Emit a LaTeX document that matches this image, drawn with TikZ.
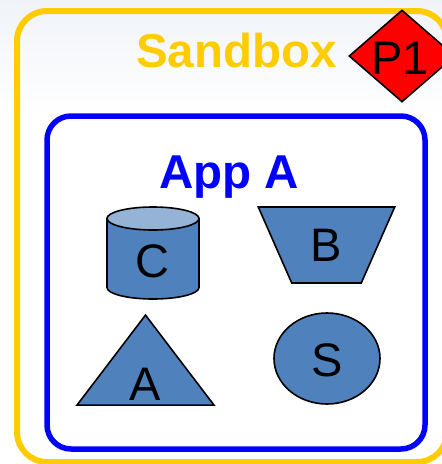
\documentclass[tikz,border=0pt]{standalone}
\usepackage{fontspec}
\setmainfont{Liberation Sans}
\usetikzlibrary{positioning,shapes.geometric}
\definecolor{sandboxcol}{HTML}{FFCC00}
\definecolor{shapecol}{HTML}{4F81BD}
\definecolor{lidcol}{HTML}{95B3D7}
\definecolor{topcol}{HTML}{F0F3F8}

\begin{document}
\begin{tikzpicture}[
    x=1pt,y=-1pt,
    bigtext/.style={font=\fontsize{47}{47}\selectfont,inner sep=0pt,anchor=base},
    titletext/.style={font=\fontsize{47.5}{47.5}\selectfont\bfseries,inner sep=0pt,anchor=base},
    myshape/.style={
    draw=black,
    fill=shapecol,
    line width=1.6pt,
    inner sep=0pt}
    ]
    \useasboundingbox (0,0) rectangle (442,464);
    \clip (0,0) rectangle (442,464);
    \shade[top color=topcol,bottom color=white] (0,0) rectangle (442,115);

    % outer boxes
    \node[draw=sandboxcol,line width=6pt,rounded corners=30pt,minimum width=430pt,minimum height=451pt,inner sep=0pt] (sandbox) at (232,236.5) {};
    \node[draw=blue,line width=5.5pt,rounded corners=24pt,minimum width=378pt,minimum height=333pt,inner sep=0pt] (appa) at (236,282.5) {};

    \node[titletext,text=sandboxcol] (sandboxlabel) at (236.5,67) {Sandbox};
    \node[titletext,text=blue] (appalabel) at (229,188) {App A};

    \node[myshape,diamond,fill=red,minimum width=106pt,minimum height=92pt] (p1) at (402,56) {};
    \node[bigtext] (p1label) at (400,74) {P1};

    % the four components
    \coordinate (cleft) at (107,218.5);
    \coordinate (cright) at (199,218.5);
    \draw[myshape] (cleft) -- ++(0,69) arc[start angle=180,end angle=360,x radius=46pt,y radius=11.5pt] -- (cright) -- cycle;
    \node[myshape,fill=lidcol,ellipse,minimum width=92pt,minimum height=23pt] (clid) at (153,218.5) {};
    \node[bigtext] (clabel) at (152.5,277) {C};

    \node[myshape,trapezium,shape border rotate=180,trapezium angle=65,trapezium stretches=true,
      font=\fontsize{47}{47}\selectfont,minimum width=137pt,minimum height=76pt] (b) at (326.5,245) {B};

    \node[myshape,isosceles triangle,shape border rotate=90,isosceles triangle stretches=true,
      minimum width=137pt,minimum height=90pt,anchor=apex] (a) at (145.5,313) {};
    \node[bigtext] (alabel) at (145.5,400) {A};

    \node[myshape,ellipse,minimum width=106pt,minimum height=91pt] (s) at (327,358.5) {};
    \node[bigtext] (slabel) at (327,376) {S};
\end{tikzpicture}
\end{document}
